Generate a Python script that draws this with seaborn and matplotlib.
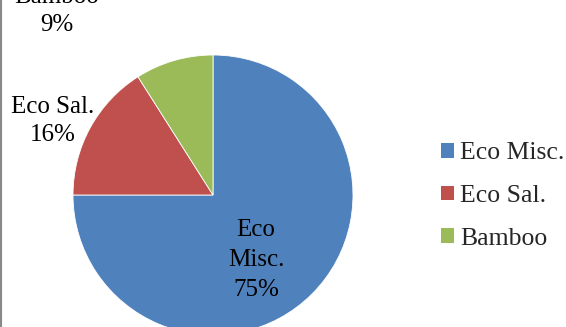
import matplotlib
matplotlib.use("Agg")
import matplotlib.pyplot as plt
import seaborn as sns
from matplotlib.patches import Patch
from matplotlib.lines import Line2D

categories = ["Eco Misc.", "Eco Sal.", "Bamboo"]
shares = [75, 16, 9]
pie_labels = ["Eco\nMisc.\n75%", "Eco Sal.\n16%", "Bamboo\n9%"]
colors = ["#4F81BD", "#C0504D", "#9BBB59"]

sns.set_theme(style="white")
plt.rcParams["font.family"] = ["Liberation Serif", "DejaVu Serif"]

W, H = 566, 327
fig = plt.figure(figsize=(W / 100, H / 100), dpi=100)
ax = fig.add_axes([0, 0, 1, 1])
ax.set_xlim(0, W)
ax.set_ylim(0, H)
ax.set_aspect("equal")
ax.axis("off")

cx, cy, r = 213, H - 195, 140
wedges, _ = ax.pie(shares, colors=colors, startangle=90, counterclock=False,
                   center=(cx, cy), radius=r,
                   wedgeprops=dict(edgecolor="white", linewidth=0.6))
ax.set_xlim(0, W)
ax.set_ylim(0, H)

# data label positions (pixels from top-left)
label_pos = [(256, 260), (53, 121), (57, 11)]
spacing = [1.45, 1.35, 1.4]
for txt, (x, y), ls in zip(pie_labels, label_pos, spacing):
    ax.text(x, H - y, txt, ha="center", va="center", fontsize=18,
            color="black", linespacing=ls)

handles = [Patch(facecolor=c, edgecolor="none") for c in colors]
leg = fig.legend(handles, categories, loc="center left",
                 bbox_to_anchor=(441 / W, 1 - 196 / H), frameon=False,
                 fontsize=18.5, handlelength=0.5, handleheight=0.5,
                 handletextpad=0.25, labelspacing=0.8, borderpad=0,
                 borderaxespad=0)

fig.add_artist(Line2D([0.8 / W, 0.8 / W], [0, 1], color="#888888", lw=1.5,
                      transform=fig.transFigure))

fig.savefig("out.png", dpi=100)
